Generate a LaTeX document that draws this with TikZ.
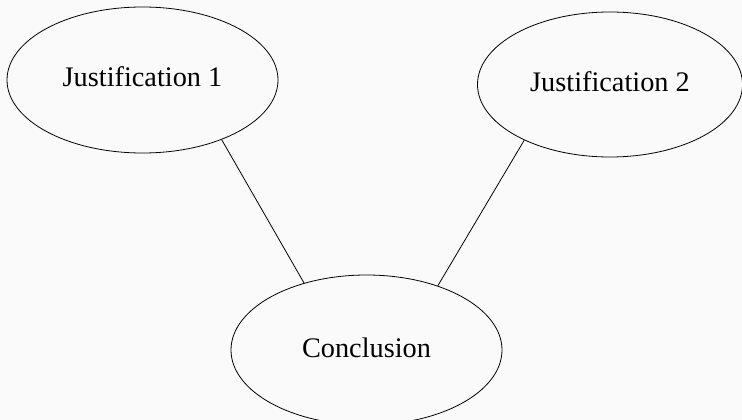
\documentclass[tikz,border=0pt]{standalone}
\usepackage{fontspec}
\setmainfont{Liberation Serif}
\usetikzlibrary{shapes.geometric}

\begin{document}
\begin{tikzpicture}[x=1pt, y=-1pt,
  claim/.style={draw, ellipse, line width=0.8pt, inner sep=0pt, text height=19pt, text depth=5pt,
    font=\fontsize{28.3}{30}\selectfont}]

\fill [black!2] (0, 0) rectangle (742, 420);
\useasboundingbox (0, 0) rectangle (742, 420);

\node [claim, minimum width=271, minimum height=146] (just1) at (142.5, 80) {Justification 1};
\node [claim, minimum width=265, minimum height=145] (just2) at (610, 84.5) {Justification 2};
\node [claim, minimum width=271, minimum height=150] (concl) at (366.5, 350) {Conclusion};

\draw [line width=0.8pt] (just1.-37) -- (concl.133.5);
\draw [line width=0.8pt] (just2.-147.7) -- (concl.42);

\end{tikzpicture}
\end{document}
